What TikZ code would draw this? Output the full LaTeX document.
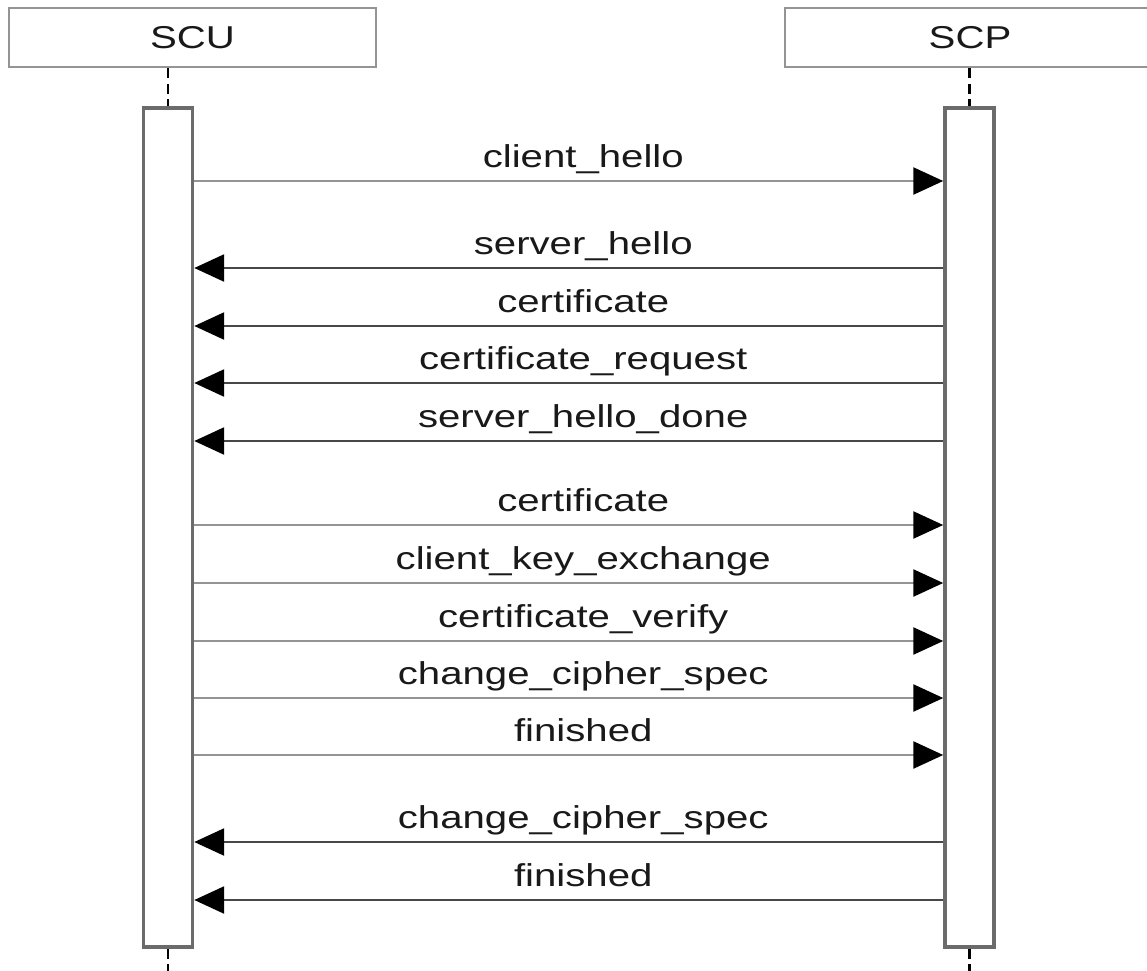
\documentclass[tikz,border=0pt]{standalone}
\usepackage{fontspec}
\usepackage{tikz}
\usetikzlibrary{arrows.meta, positioning}
\newfontfamily\msgfont[FakeStretch=1.27]{Liberation Sans}

\begin{document}
\begin{tikzpicture}[x=0.02cm, y=-0.02cm,
        head/.style={rectangle, draw=black!42, line width=1.6pt, minimum height=1.18cm, font=\msgfont\fontsize{18}{20}\selectfont, text=black!90},
        bar/.style={rectangle, draw=black!58, line width=2pt, fill=white, minimum width=0.98cm, minimum height=16.78cm},
        life/.style={black, line width=1.2pt, dash pattern=on 0.2cm off 0.11cm},
        fwd/.style={draw=black!42, line width=1.5pt, -{Triangle[length=0.6cm, width=0.54cm, black]}},
        bwd/.style={draw=black!72, line width=1.5pt, -{Triangle[length=0.6cm, width=0.54cm, black]}},
        lbl/.style={anchor=base, xshift=0.29cm, yshift=0.27cm, font=\msgfont\fontsize{18}{20}\selectfont, text=black!90}]

    \useasboundingbox (0,0) rectangle (1147,971);

    % participants
    \node[head, minimum width=7.34cm] (scu) at (192.5,37.5) {SCU};
    \node[head, minimum width=7.4cm] (scp) at (970,37.5) {SCP};

    % activation bars
    \node[bar] (scubar) at (168,527.5) {};
    \node[bar] (scpbar) at (969.5,527.5) {};

    % lifelines
    \coordinate (scuend) at (168,975);
    \coordinate (scpend) at (969.5,975);
    \draw[life] (scu.south -| scubar.north) -- (scubar.north);
    \draw[life] (scp.south -| scpbar.north) -- (scpbar.north);
    \draw[life] (scubar.south) -- (scuend);
    \draw[life] (scpbar.south) -- (scpend);

    % message end points
    \foreach \y [count=\i] in {181,268,326,383,441,525,583,641,698,755,842,900} {
        \coordinate (l\i) at (scubar.east |- 0,\y);
        \coordinate (r\i) at (scpbar.west |- 0,\y);
    }

    \draw[fwd] (l1) -- node[lbl] {client\_hello} (r1);
    \draw[bwd] (r2) -- node[lbl] {server\_hello} (l2);
    \draw[bwd] (r3) -- node[lbl] {certificate} (l3);
    \draw[bwd] (r4) -- node[lbl] {certificate\_request} (l4);
    \draw[bwd] (r5) -- node[lbl] {server\_hello\_done} (l5);
    \draw[fwd] (l6) -- node[lbl] {certificate} (r6);
    \draw[fwd] (l7) -- node[lbl] {client\_key\_exchange} (r7);
    \draw[fwd] (l8) -- node[lbl] {certificate\_verify} (r8);
    \draw[fwd] (l9) -- node[lbl] {change\_cipher\_spec} (r9);
    \draw[fwd] (l10) -- node[lbl] {finished} (r10);
    \draw[bwd] (r11) -- node[lbl] {change\_cipher\_spec} (l11);
    \draw[bwd] (r12) -- node[lbl] {finished} (l12);
\end{tikzpicture}
\end{document}
